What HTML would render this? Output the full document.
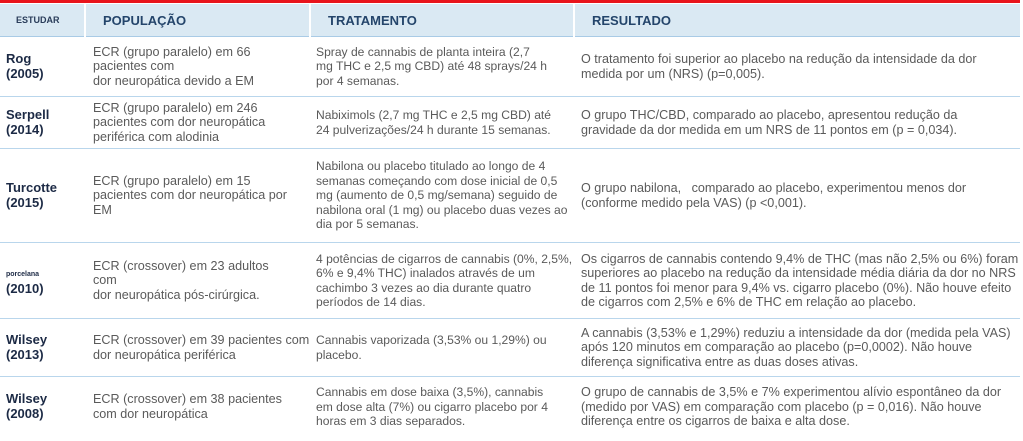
<!DOCTYPE html>
<html><head><meta charset="utf-8"><style>
body{margin:0;width:1023px;height:441px;background:#fff;overflow:hidden;font-family:"Liberation Sans",sans-serif;}
.red{position:absolute;left:0;top:0;width:1020px;height:3px;background:#e8141c;}
table{position:absolute;left:0;top:4px;width:1020px;border-collapse:collapse;table-layout:fixed;}
th{background:#dae9f3;color:#24456b;font-weight:bold;font-size:13px;text-align:left;height:32px;padding:0 0 0 17px;border-left:2px solid #fff;border-bottom:1px solid #a9cbe6;}
th:first-child{border-left:none;font-size:9px;padding-left:16px;color:#2a3d5a}
td{font-size:12.6px;line-height:14.5px;color:#5a5a5a;vertical-align:middle;padding:0 0 0 7px;border-bottom:1px solid #b9d6ec;white-space:nowrap;}
tr:last-child td{border-bottom:none}
td:first-child{color:#1c2a45;font-weight:bold;font-size:13px;padding-left:6px;}
td:nth-child(2){padding-left:8px}
td:nth-child(3){padding-left:6px;font-size:12.1px}
td:nth-child(4){padding-left:7px}
.sm{font-size:7px;}
</style></head><body>
<div class="red"></div>
<table>
<colgroup><col style="width:85px"><col style="width:225px"><col style="width:264px"><col style="width:446px"></colgroup>
<tr><th>ESTUDAR</th><th>POPULAÇÃO</th><th>TRATAMENTO</th><th>RESULTADO</th></tr>
<tr style="height:60px"><td>Rog<br>(2005)</td><td>ECR (grupo paralelo) em 66<br>pacientes com<br>dor neuropática devido a EM</td><td>Spray de cannabis de planta inteira (2,7<br>mg THC e 2,5 mg CBD) até 48 sprays/24 h<br>por 4 semanas.</td><td>O tratamento foi superior ao placebo na redução da intensidade da dor<br>medida por um (NRS) (p=0,005).</td></tr>
<tr style="height:52px"><td>Serpell<br>(2014)</td><td>ECR (grupo paralelo) em 246<br>pacientes com dor neuropática<br>periférica com alodinia</td><td>Nabiximols (2,7 mg THC e 2,5 mg CBD) até<br>24 pulverizações/24 h durante 15 semanas.</td><td>O grupo THC/CBD, comparado ao placebo, apresentou redução da<br>gravidade da dor medida em um NRS de 11 pontos em (p = 0,034).</td></tr>
<tr style="height:94px"><td>Turcotte<br>(2015)</td><td>ECR (grupo paralelo) em 15<br>pacientes com dor neuropática por<br>EM</td><td>Nabilona ou placebo titulado ao longo de 4<br>semanas começando com dose inicial de 0,5<br>mg (aumento de 0,5 mg/semana) seguido de<br>nabilona oral (1 mg) ou placebo duas vezes ao<br>dia por 5 semanas.</td><td>O grupo nabilona,&nbsp;&nbsp; comparado ao placebo, experimentou menos dor<br>(conforme medido pela VAS) (p &lt;0,001).</td></tr>
<tr style="height:76px"><td><span class="sm">porcelana</span><br>(2010)</td><td>ECR (crossover) em 23 adultos<br>com<br>dor neuropática pós-cirúrgica.</td><td>4 potências de cigarros de cannabis (0%, 2,5%,<br>6% e 9,4% THC) inalados através de um<br>cachimbo 3 vezes ao dia durante quatro<br>períodos de 14 dias.</td><td>Os cigarros de cannabis contendo 9,4% de THC (mas não 2,5% ou 6%) foram<br>superiores ao placebo na redução da intensidade média diária da dor no NRS<br>de 11 pontos foi menor para 9,4% vs. cigarro placebo (0%). Não houve efeito<br>de cigarros com 2,5% e 6% de THC em relação ao placebo.</td></tr>
<tr style="height:58px"><td>Wilsey<br>(2013)</td><td>ECR (crossover) em 39 pacientes com<br>dor neuropática periférica</td><td>Cannabis vaporizada (3,53% ou 1,29%) ou<br>placebo.</td><td>A cannabis (3,53% e 1,29%) reduziu a intensidade da dor (medida pela VAS)<br>após 120 minutos em comparação ao placebo (p=0,0002). Não houve<br>diferença significativa entre as duas doses ativas.</td></tr>
<tr style="height:60px"><td>Wilsey<br>(2008)</td><td>ECR (crossover) em 38 pacientes<br>com dor neuropática</td><td>Cannabis em dose baixa (3,5%), cannabis<br>em dose alta (7%) ou cigarro placebo por 4<br>horas em 3 dias separados.</td><td>O grupo de cannabis de 3,5% e 7% experimentou alívio espontâneo da dor<br>(medido por VAS) em comparação com placebo (p = 0,016). Não houve<br>diferença entre os cigarros de baixa e alta dose.</td></tr>
</table>
</body></html>
